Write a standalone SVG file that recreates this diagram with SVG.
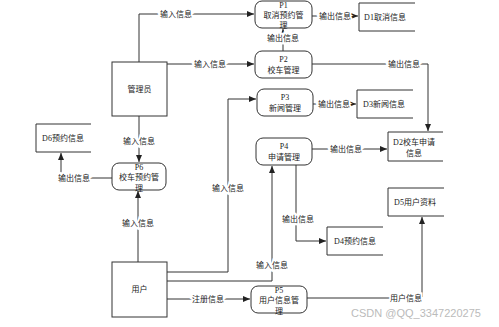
<svg xmlns="http://www.w3.org/2000/svg" width="499" height="327" viewBox="0 0 499 327">
<style>
text{font-family:"Liberation Serif","Noto Sans CJK SC",serif;font-size:8px;fill:#222;text-anchor:middle;dominant-baseline:central}
.lbl{paint-order:stroke;stroke:#fff;stroke-width:4px}
.box{fill:#fff;stroke:#333;stroke-width:1}
.store{fill:none;stroke:#333;stroke-width:1}
.ln{fill:none;stroke:#333;stroke-width:1}
.arr{marker-end:url(#ah)}
.wm{font-family:"Liberation Sans",sans-serif;font-size:11px;fill:#bbb;stroke:none}
</style>
<defs>
<marker id="ah" markerWidth="8" markerHeight="6" refX="7" refY="3" orient="auto" markerUnits="userSpaceOnUse">
<path d="M0,0 L7,3 L0,6 Z" fill="#222"/>
</marker>
</defs>
<rect width="499" height="327" fill="#fff"/>
<g id="connectors">
<path class="ln arr" d="M139,62 V14 H254"/>
<path class="ln arr" d="M167,64 H254"/>
<path class="ln arr" d="M283,51 V29"/>
<path class="ln arr" d="M312,16 H358"/>
<path class="ln arr" d="M312,64 H428 V131"/>
<path class="ln arr" d="M313,104 H356"/>
<path class="ln arr" d="M312,149 H387"/>
<path class="ln arr" d="M296,165 V241 H326"/>
<path class="ln arr" d="M139,116 V162"/>
<path class="ln arr" d="M138,262 V191"/>
<path class="ln arr" d="M112,178 H61 V153"/>
<path class="ln arr" d="M167,272 H228 V99 H256"/>
<path class="ln arr" d="M167,281 H272 V166"/>
<path class="ln arr" d="M167,299 H250"/>
<path class="ln arr" d="M307,298 H422 V217"/>
<text class="lbl" x="176" y="14">输入信息</text>
<text class="lbl" x="210" y="64">输入信息</text>
<text class="lbl" x="283" y="38">输出信息</text>
<text class="lbl" x="335" y="16">输出信息</text>
<text class="lbl" x="404" y="64">输出信息</text>
<text class="lbl" x="334" y="104">输出信息</text>
<text class="lbl" x="346" y="149">输出信息</text>
<text class="lbl" x="298" y="219">输出信息</text>
<text class="lbl" x="139" y="141">输入信息</text>
<text class="lbl" x="138" y="223">输入信息</text>
<text class="lbl" x="74" y="178">输出信息</text>
<text class="lbl" x="228" y="188">输入信息</text>
<text class="lbl" x="272" y="265">输入信息</text>
<text class="lbl" x="208" y="299">注册信息</text>
<text class="lbl" x="406" y="298">用户信息</text>
</g>
<g id="admin"><rect class="box" x="112" y="62" width="55" height="54"/><text x="139.5" y="89">管理员</text></g>
<g id="user"><rect class="box" x="112" y="262" width="55" height="55"/><text x="139.5" y="289">用户</text></g>
<g id="P1"><rect class="box" x="255" y="1" width="57" height="27" rx="7"/><text x="283.5" y="5">P1</text><text x="283.5" y="15">取消预约管</text><text x="283.5" y="25">理</text></g>
<g id="P2"><rect class="box" x="255" y="51" width="57" height="27" rx="7"/><text x="283.5" y="59">P2</text><text x="283.5" y="70">校车管理</text></g>
<g id="P3"><rect class="box" x="257" y="89" width="56" height="27" rx="7"/><text x="285" y="97">P3</text><text x="285" y="108">新闻管理</text></g>
<g id="P4"><rect class="box" x="256" y="138" width="56" height="27" rx="7"/><text x="284" y="146">P4</text><text x="284" y="157">申请管理</text></g>
<g id="P5"><rect class="box" x="251" y="286" width="56" height="27" rx="7"/><text x="279" y="290">P5</text><text x="279" y="300">用户信息管</text><text x="279" y="311">理</text></g>
<g id="P6"><rect class="box" x="112" y="163" width="54" height="27" rx="7"/><text x="139" y="167">P6</text><text x="139" y="177">校车预约管</text><text x="139" y="188">理</text></g>
<g id="D1"><path class="store" d="M415,3 H359 V31 H415"/><text x="385" y="17">D1取消信息</text></g>
<g id="D2"><path class="store" d="M443,132 H388 V161 H443"/><text x="414" y="142">D2校车申请</text><text x="414" y="153">信息</text></g>
<g id="D3"><path class="store" d="M413,90 H357 V118 H413"/><text x="384" y="104">D3新闻信息</text></g>
<g id="D4"><path class="store" d="M383,227 H327 V255 H383"/><text x="355" y="241">D4预约信息</text></g>
<g id="D5"><path class="store" d="M444,188 H388 V216 H444"/><text x="415" y="202">D5用户资料</text></g>
<g id="D6"><path class="store" d="M91,124 H36 V152 H91"/><text x="63" y="138">D6预约信息</text></g>
<text class="wm" x="416" y="313">CSDN @QQ_3347220275</text>
</svg>
